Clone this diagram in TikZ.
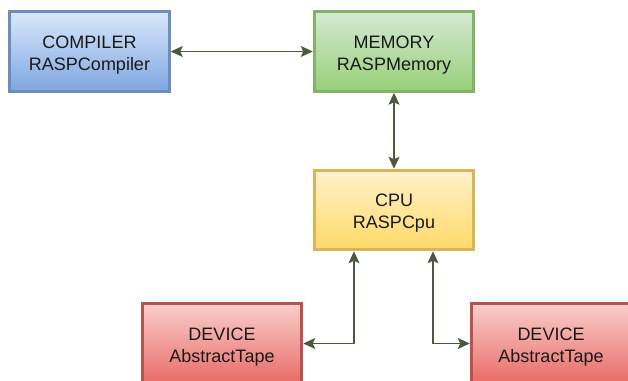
\documentclass[tikz,border=0pt]{standalone}
\usepackage{fontspec}
\setmainfont{Liberation Sans}
\usetikzlibrary{positioning, arrows.meta, calc}
\definecolor{compB}{HTML}{6C8EBF}
\definecolor{compT}{HTML}{DAE8FC}
\definecolor{compD}{HTML}{7EA6E0}
\definecolor{memB}{HTML}{82B366}
\definecolor{memT}{HTML}{D5E8D4}
\definecolor{memD}{HTML}{97D077}
\definecolor{cpuB}{HTML}{D6B656}
\definecolor{cpuT}{HTML}{FFF2CC}
\definecolor{cpuD}{HTML}{FFD966}
\definecolor{devB}{HTML}{B85450}
\definecolor{devT}{HTML}{F8CECC}
\definecolor{devD}{HTML}{EA6B66}
\definecolor{wire}{HTML}{4B5A3E}
\tikzset{%
  block/.style = {draw, line width = 3pt, rectangle, minimum height = 79.5pt,
    minimum width = 159.5pt, align = center, text = black!90,
    font = \fontsize{18}{22}\selectfont}, % Unit
  link/.style  = {{Stealth[length = 12pt, width = 11pt, inset = 2.5pt]}-{Stealth[length = 12pt, width = 11pt, inset = 2.5pt]},
    draw = wire, line width = 1.4pt} % Bus
}
\newcommand{\lowtext}{\rule{0pt}{19pt}}

\begin{document}
\begin{tikzpicture}[x = 1pt, y = -1pt]
\useasboundingbox (0,0) rectangle (628,380);
% blocks
\draw
	(89.5,51.5) node [block, draw = compB, top color = compT, bottom color = compD] (comp) {\lowtext COMPILER\\RASPCompiler}
	(394,51.5) node [block, draw = memB, top color = memT, bottom color = memD] (mem) {\lowtext MEMORY\\RASPMemory}
	(394,210) node [block, draw = cpuB, top color = cpuT, bottom color = cpuD] (cpu) {\lowtext CPU\\RASPCpu}
	(222,343.5) node [block, draw = devB, top color = devT, bottom color = devD] (devl) {\lowtext DEVICE\\AbstractTape}
	(551,343.5) node [block, draw = devB, top color = devT, bottom color = devD] (devr) {\lowtext DEVICE\\AbstractTape};
% bus lines
\draw[link] (comp) -- (mem);
\draw[link] (mem) -- (cpu);
\draw[link] ([xshift = -40pt]cpu.south) |- (devl.east);
\draw[link] ([xshift = 39pt]cpu.south) |- (devr.west);
\end{tikzpicture}
\end{document}
